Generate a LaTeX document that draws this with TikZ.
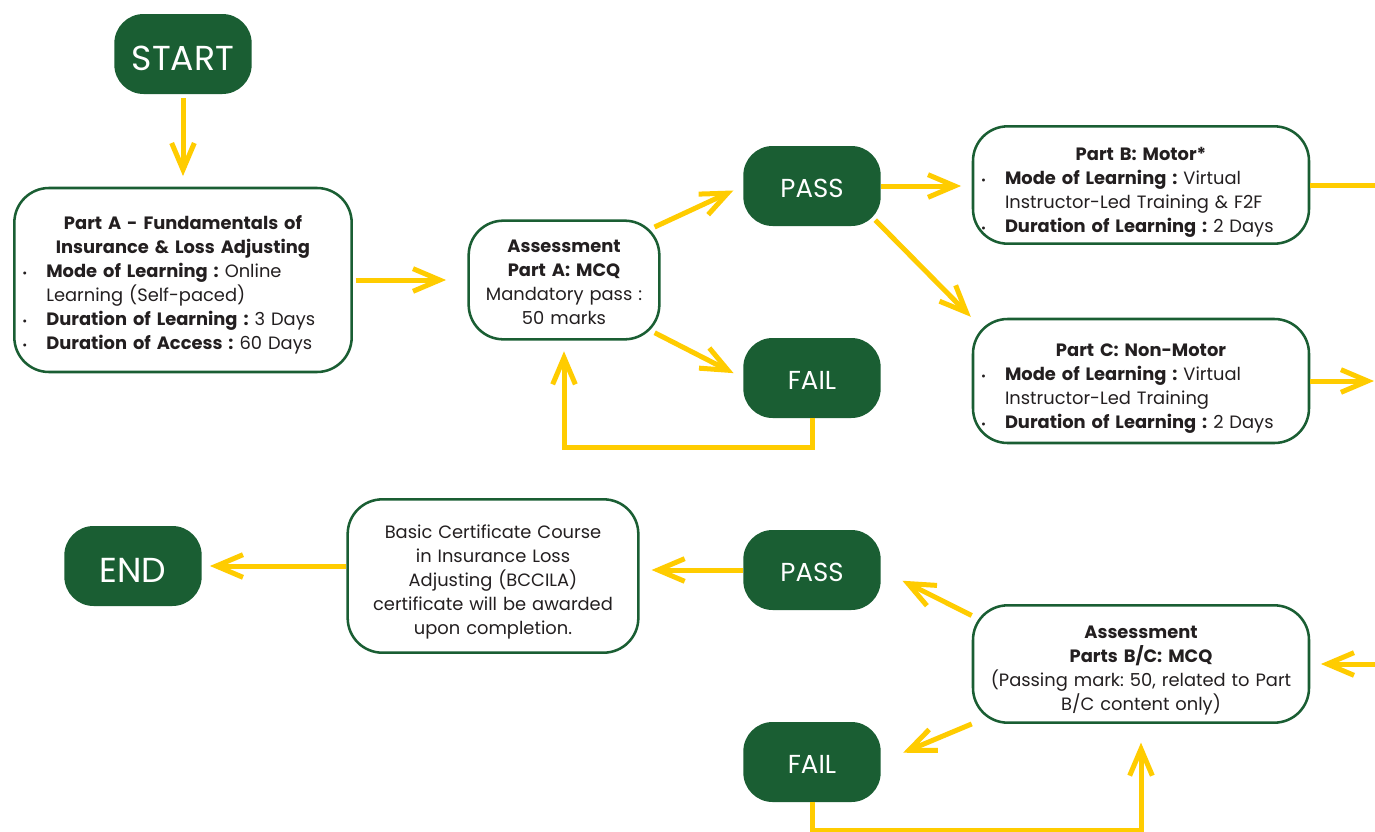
\documentclass[tikz,border=0pt]{standalone}
\usepackage{fontspec}
\setmainfont{Poppins}
\usetikzlibrary{arrows.meta,positioning}
\definecolor{darkgreen}{HTML}{1A5E33}
\definecolor{gold}{HTML}{FFCC00}
\definecolor{ink}{HTML}{231F20}
\frenchspacing
\newcommand{\bitem}[1]{\par\noindent\hangindent=18pt\hangafter=1\makebox[18pt][l]{\small\textbullet}#1}
\newcommand{\topstrut}[1]{\rule{0pt}{#1}}
\tikzset{
  pill/.style={fill=darkgreen, text=white, rounded corners=22pt, minimum width=103pt, minimum height=60pt, text height=16.5pt, text depth=0pt, font=\fontsize{19.5}{22}\selectfont},
  bigpill/.style={pill, text height=24pt, font=\fontsize{26}{28}\selectfont},
  infobox/.style={draw=darkgreen, line width=1.9pt, fill=white, text=ink, rounded corners=26pt, inner xsep=6pt, font=\fontsize{13.4}{18}\selectfont},
  flow/.style={draw=gold, line width=3.75pt, -{Straight Barb[length=20pt,width=17pt]}},
  plain/.style={draw=gold, line width=3.75pt}
}
\begin{document}
\begin{tikzpicture}[x=0.75pt, y=-0.75pt]
    \useasboundingbox[fill=white] (0,0) rectangle (1375,832);

    %pills
    \node[bigpill] (start) at (183,54) {START};
    \node[pill] (passA) at (812,186) {PASS};
    \node[pill] (failA) at (812,378) {FAIL};
    \node[pill] (passBC) at (812,570) {PASS};
    \node[pill] (failBC) at (812,762) {FAIL};
    \node[bigpill] (end) at (133,566) {END};

    %boxes
    \node[infobox, text width=241pt, minimum height=138pt, align=left] (partA) at (183,280) {%
      {\centering\bfseries\topstrut{17.5pt}Part A - Fundamentals of\\Insurance \& Loss Adjusting\par}
      \bitem{\textbf{Mode of Learning :} Online\newline Learning (Self-paced)}
      \bitem{\textbf{Duration of Learning :} 3 Days}
      \bitem{\textbf{Duration of Access :} 60 Days}};
    \node[infobox, text width=131pt, minimum height=89pt, align=center] (assessA) at (564,280)
      {\topstrut{13pt}\textbf{Assessment}\\\textbf{Part A: MCQ}\\Mandatory pass :\\50 marks};
    \node[infobox, text width=240pt, minimum height=88pt, align=left] (partB) at (1141,185) {%
      {\centering\bfseries\topstrut{20.5pt}Part B: Motor*\par}
      \bitem{\textbf{Mode of Learning :} Virtual\newline Instructor-Led Training \& F2F}
      \bitem{\textbf{Duration of Learning :} 2 Days}};
    \node[infobox, text width=240pt, minimum height=93pt, align=left] (partC) at (1141,381) {%
      {\centering\bfseries\topstrut{20.5pt}Part C: Non-Motor\par}
      \bitem{\textbf{Mode of Learning :} Virtual\newline Instructor-Led Training}
      \bitem{\textbf{Duration of Learning :} 2 Days}};
    \node[infobox, text width=240pt, minimum height=88pt, align=center] (assessBC) at (1141,664)
      {\topstrut{19pt}\textbf{Assessment}\\\textbf{Parts B/C: MCQ}\\(Passing mark: 50, related to Part\\B/C content only)};
    \node[infobox, text width=206pt, minimum height=115pt, align=center] (cert) at (493,576)
      {\topstrut{19pt}Basic Certificate Course\\in Insurance Loss\\Adjusting (BCCILA)\\certificate will be awarded\\upon completion.};

    %free ends
    \coordinate (outB) at (1380,185);
    \coordinate (outC) at (1374,381);
    \coordinate (inBC) at (1380,664);

    %arrows
    \draw[flow, shorten <=3pt, shorten >=8pt] (start.south) -- (partA.north);
    \draw[flow, shorten <=2pt, shorten >=16pt] (partA.east) -- (assessA.west);
    \draw[flow, shorten <=-5pt, shorten >=8pt] (assessA.30) -- (passA.west);
    \draw[flow, shorten <=-5pt, shorten >=8pt] (assessA.-30) -- (failA.west);
    \draw[flow, shorten >=8pt] (failA.south) -- ++(0,29) -| (assessA.south);
    \draw[flow, shorten >=8pt] (passA.east) -- (passA.east -| partB.west);
    \draw[flow, shorten <=-6pt, shorten >=1pt] (passA.-30) -- (partC.north west);
    \draw[plain] (partB.east) -- (outB);
    \draw[flow] (partC.east) -- (outC);
    \draw[flow, shorten >=8pt] (inBC) -- (assessBC.east);
    \draw[flow, shorten >=18pt] (assessBC.164) -- (passBC.east);
    \draw[flow, shorten >=18pt] (assessBC.south west) -- (failBC.east);
    \draw[flow, shorten >=14pt] (failBC.south) -- ++(0,28) -| (assessBC.south);
    \draw[flow, shorten >=9pt] (passBC.west) -- (passBC.west -| cert.east);
    \draw[flow, shorten >=6pt] (end.east -| cert.west) -- (end.east);
\end{tikzpicture}
\end{document}
